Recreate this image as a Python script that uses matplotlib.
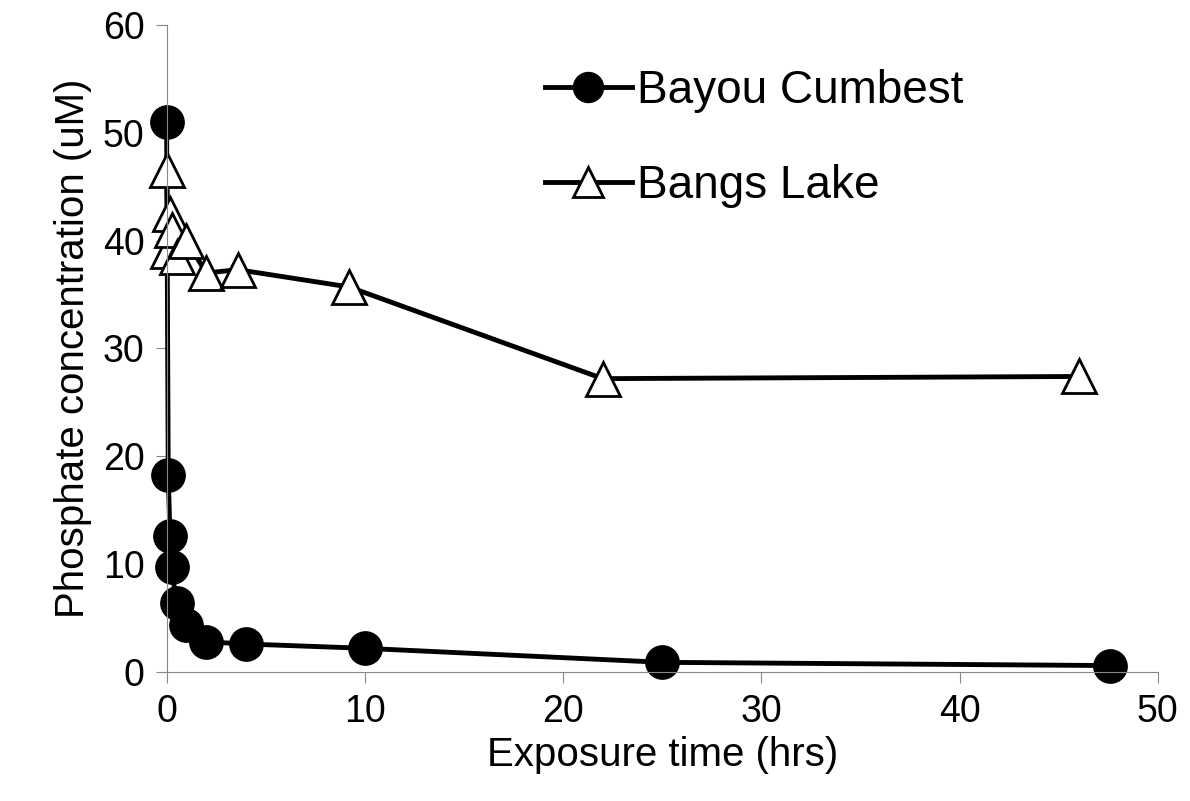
import matplotlib
matplotlib.use("Agg")
from matplotlib import pyplot as plt

plt.rcParams["font.family"] = ["Liberation Sans", "DejaVu Sans"]

cumbest_t = [0, 0.083, 0.17, 0.25, 0.5, 1, 2, 4, 10, 25, 47.6]
cumbest_p = [51, 18.3, 12.6, 9.7, 6.4, 4.4, 2.8, 2.6, 2.2, 0.9, 0.6]

bangs_t = [0, 0.083, 0.17, 0.25, 0.5, 1, 2, 3.6, 9.2, 22, 46]
bangs_p = [46.5, 39.0, 42.5, 41.0, 38.5, 40.0, 37.0, 37.3, 35.7, 27.2, 27.4]

fig = plt.figure(figsize=(11.9, 8.01), dpi=100)
ax = fig.add_axes([0.14, 0.161, 0.833, 0.808])

ax.plot(cumbest_t, cumbest_p, color="black", lw=3.5, marker="o", ms=24,
        markerfacecolor="black", label="Bayou Cumbest")
ax.plot(bangs_t, bangs_p, color="black", lw=3.5, marker="^", ms=24,
        markerfacecolor="white", markeredgewidth=2, label="Bangs Lake")

ax.set_xlim(0, 50)
ax.set_ylim(0, 60)
ax.set_xticks(range(0, 51, 10))
ax.set_yticks(range(0, 61, 10))
ax.spines["top"].set_visible(False)
ax.spines["right"].set_visible(False)
for s in ("left", "bottom"):
    ax.spines[s].set_color("#888888")
ax.tick_params(direction="out", length=8, color="#888888", labelsize=27, pad=8)
ax.set_xlabel("Exposure time (hrs)", fontsize=29, labelpad=4)
ax.set_ylabel("Phosphate concentration (uM)", fontsize=29, labelpad=8)
for ln in ax.lines:
    ln.set_clip_on(False)

ax.legend(loc="upper left", bbox_to_anchor=(0.34, 0.995), frameon=False,
          fontsize=33, handlelength=1.9, handletextpad=0.1, labelspacing=1.1,
          markerscale=0.9)

fig.savefig("out.png", dpi=100)
